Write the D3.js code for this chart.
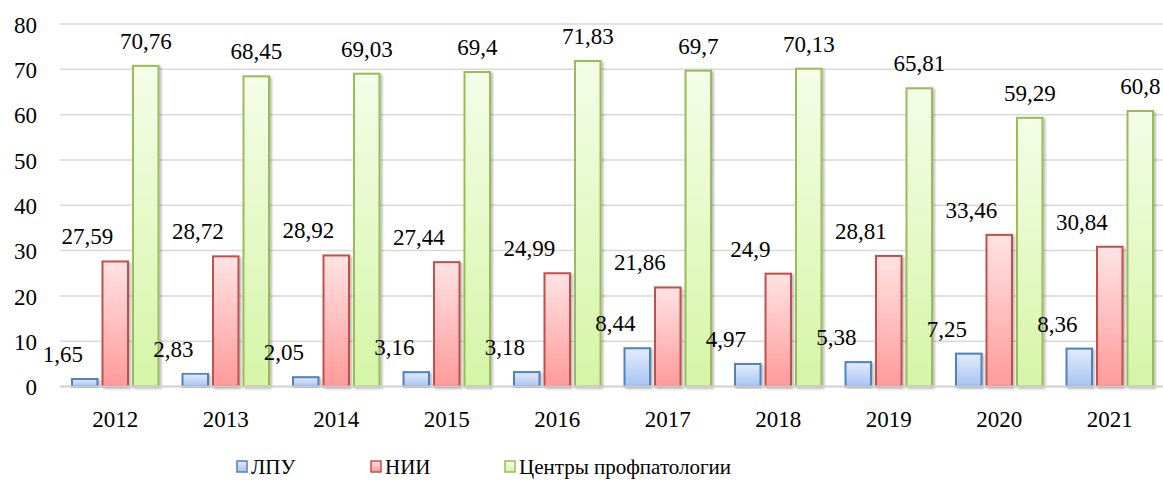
<!DOCTYPE html>
<html><head><meta charset="utf-8">
<script src="https://cdn.jsdelivr.net/npm/d3@7"></script>
<style>html,body{margin:0;padding:0;background:#fff;}svg{display:block;}
svg text{font-family:"Liberation Serif","Times New Roman","DejaVu Serif",serif;}</style>
</head><body>
<svg id="chart" width="1163" height="480"></svg>
<script>
const years = ["2012","2013","2014","2015","2016","2017","2018","2019","2020","2021"];
const seriesNames = ["ЛПУ","НИИ","Центры профпатологии"];
const lpu = [1.65,2.83,2.05,3.16,3.18,8.44,4.97,5.38,7.25,8.36];
const nii = [27.59,28.72,28.92,27.44,24.99,21.86,24.9,28.81,33.46,30.84];
const centers = [70.76,68.45,69.03,69.4,71.83,69.7,70.13,65.81,59.29,60.8];
const yTicks = [0,10,20,30,40,50,60,70,80];

const svg = d3.select("#chart");
const colors = [
  {stroke:"#4f81bd", top:"#e3ecfc", bottom:"#a7c3f2"},
  {stroke:"#c0504d", top:"#ffe3e3", bottom:"#ff9a9a"},
  {stroke:"#9bbb59", top:"#f4fde8", bottom:"#d5f5a6"}
];
const labelDx = [-22, -28, 0];
const fs = 23;
const defs = svg.append("defs");
colors.forEach((c,i)=>{
  const g = defs.append("linearGradient").attr("id","g"+i).attr("x1",0).attr("y1",0).attr("x2",0).attr("y2",1);
  g.append("stop").attr("offset","0%").attr("stop-color",c.top);
  g.append("stop").attr("offset","100%").attr("stop-color",c.bottom);
});
const f = defs.append("filter").attr("id","sh").attr("x","-20%").attr("y","-5%").attr("width","150%").attr("height","115%");
f.append("feDropShadow").attr("dx",2).attr("dy",1.5).attr("stdDeviation",1.2).attr("flood-color","#000").attr("flood-opacity",0.25);

const x0 = d3.scaleBand().domain(years).range([60,1165]).padding(0);
const x1 = d3.scaleBand().domain(seriesNames).range([12, x0.bandwidth()-12]).paddingInner(0.164).paddingOuter(0);
const y = d3.scaleLinear().domain([0,80]).range([386.5,24]);

svg.append("g").selectAll("line").data(yTicks.filter(t=>t>0)).join("line")
  .attr("x1",60).attr("x2",1163).attr("y1",d=>y(d)).attr("y2",d=>y(d))
  .attr("stroke","#d9d9d9").attr("stroke-width",1.5);

const yAxis = d3.axisLeft(y).tickValues(yTicks).tickSize(0).tickPadding(0).tickFormat(d3.format("d"));
const ya = svg.append("g").attr("transform","translate(37,0)").call(yAxis);
ya.select(".domain").remove();
ya.attr("font-family",null).attr("font-size",fs);
ya.selectAll("text").attr("fill","#000").attr("dy","0.36em");

const data = [lpu, nii, centers];
const groups = svg.append("g").selectAll("g").data(years).join("g")
  .attr("transform",d=>`translate(${x0(d)},0)`);
groups.selectAll("rect").data((d,i)=>seriesNames.map((s,k)=>({s,k,v:data[k][i]}))).join("rect")
  .attr("x",d=>x1(d.s)).attr("width",x1.bandwidth())
  .attr("y",d=>y(d.v)).attr("height",d=>y(0)-y(d.v))
  .attr("fill",d=>`url(#g${d.k})`).attr("stroke",d=>colors[d.k].stroke).attr("stroke-width",2)
  .attr("filter","url(#sh)");

svg.append("line").attr("x1",60).attr("x2",1163).attr("y1",y(0)).attr("y2",y(0))
  .attr("stroke","#d0d0d0").attr("stroke-width",2);

groups.selectAll("text.lbl").data((d,i)=>seriesNames.map((s,k)=>({s,k,v:data[k][i]}))).join("text")
  .attr("class","lbl")
  .attr("x",d=>x1(d.s)+x1.bandwidth()/2+labelDx[d.k])
  .attr("y",d=>y(d.v)-17)
  .attr("text-anchor","middle").attr("font-size",fs).attr("fill","#000")
  .text(d=>String(d.v).replace(".",","));

const xAxis = d3.axisBottom(x0).tickSize(0).tickPadding(0);
const xa = svg.append("g").attr("transform","translate(0,427)").call(xAxis);
xa.select(".domain").remove();
xa.attr("font-family",null).attr("font-size",fs);
xa.selectAll("text").attr("fill","#000").attr("dy","0").attr("y",0);

const legX = [237, 371, 505];
const leg = svg.append("g").selectAll("g").data(seriesNames).join("g")
  .attr("transform",(d,i)=>`translate(${legX[i]},461)`);
leg.append("rect").attr("width",10).attr("height",11)
  .attr("fill",(d,i)=>`url(#g${i})`).attr("stroke",(d,i)=>colors[i].stroke).attr("stroke-width",1.5);
leg.append("text").attr("x",14).attr("y",13).attr("font-size",21).attr("fill","#000").text(d=>d);
</script>
</body></html>
